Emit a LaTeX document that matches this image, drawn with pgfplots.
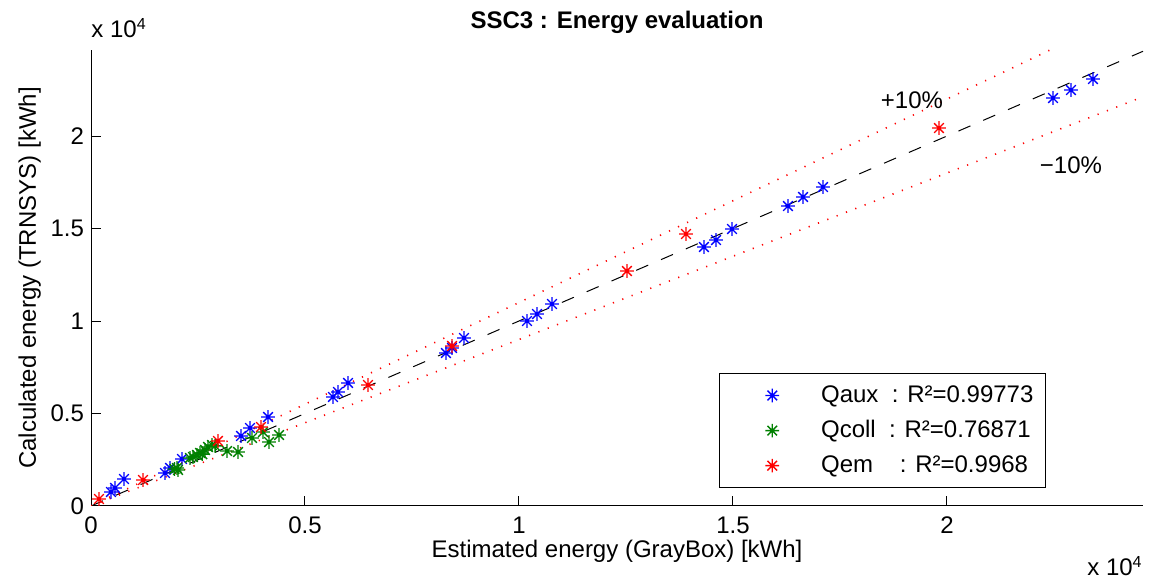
\documentclass[border=0pt]{standalone}
\usepackage{fontspec}
\setmainfont{Liberation Sans}
\usepackage{pgfplots}
\pgfplotsset{compat=1.18}
\definecolor{mblue}{rgb}{0,0,1}
\definecolor{mgreen}{rgb}{0,0.5,0}
\definecolor{mred}{rgb}{1,0,0}

% MATLAB-like eight-armed asterisk
\pgfdeclareplotmark{mast}{%
  \pgfpathmoveto{\pgfqpoint{-\pgfplotmarksize}{0pt}}%
  \pgfpathlineto{\pgfqpoint{\pgfplotmarksize}{0pt}}%
  \pgfpathmoveto{\pgfqpoint{0pt}{-\pgfplotmarksize}}%
  \pgfpathlineto{\pgfqpoint{0pt}{\pgfplotmarksize}}%
  \pgfpathmoveto{\pgfqpoint{-0.707\pgfplotmarksize}{-0.707\pgfplotmarksize}}%
  \pgfpathlineto{\pgfqpoint{0.707\pgfplotmarksize}{0.707\pgfplotmarksize}}%
  \pgfpathmoveto{\pgfqpoint{-0.707\pgfplotmarksize}{0.707\pgfplotmarksize}}%
  \pgfpathlineto{\pgfqpoint{0.707\pgfplotmarksize}{-0.707\pgfplotmarksize}}%
  \pgfusepathqstroke}

\begin{document}
\begin{tikzpicture}[font=\fontsize{12}{14}\selectfont]
\begin{axis}[
  name=ax, scale only axis, width=526pt, height=228pt,
  xmin=0, xmax=24580, ymin=0, ymax=24650,
  axis x line*=bottom, axis y line*=left,
  axis line style={-, black, line width=0.5pt},
  scaled ticks=false,
  xtick={0,5000,10000,15000,20000}, xticklabels={0,0.5,1,1.5,2},
  ytick={0,5000,10000,15000,20000}, yticklabels={0,0.5,1,1.5,2},
  tick align=inside, major tick length=5pt,
  tick style={black, line width=0.5pt},
  xticklabel style={yshift=-2pt},
  xlabel={Estimated energy (GrayBox) [kWh]},
  ylabel={Calculated energy (TRNSYS) [kWh]},
  xlabel style={at={([yshift=-26pt]axis description cs:0.5,0)}, anchor=base},
  ylabel style={at={([xshift=-27.5pt]axis description cs:0,0.5)}, anchor=base},
  clip marker paths=true,
  legend style={at={(rel axis cs:0.908,0.292)}, anchor=north east,
    draw=black, line width=0.8pt, inner xsep=4pt, inner ysep=4pt,
    row sep=3.5pt, font=\fontsize{12}{14}\selectfont},
  legend cell align=left,
  legend image code/.code={\draw[#1] plot coordinates {(22pt,0pt)}; \path (0pt,-4pt) (44pt,4pt);},
]
\addplot[black, line width=0.5pt, dash pattern=on 6.5pt off 7pt, forget plot]
  coordinates {(0,0) (24580,24580)};
\addplot[mred, line width=0.8pt, dash pattern=on 0.6pt off 4.4pt, forget plot]
  coordinates {(0,0) (24580,27038)};
\addplot[mred, line width=0.8pt, dash pattern=on 0.6pt off 4.4pt, forget plot]
  coordinates {(0,0) (24580,22122)};

\addplot[only marks, mark=mast, mark size=3.4pt, mblue, mark options={line width=0.7pt}]
  coordinates {
  (467,757) (561,973) (771,1459) (1729,1784) (1846,2054) (2126,2541)
  (3505,3784) (3715,4216) (4136,4811) (5654,5892) (5771,6162) (6005,6649)
  (8294,8270) (8435,8541) (8715,9081) (10187,10000) (10421,10378) (10771,10919)
  (14322,14000) (14603,14378) (14977,14973) (16285,16216) (16636,16703) (17103,17243)
  (22477,22054) (22897,22486) (23411,23081)};
\addlegendentry{Qaux\ \ : R²=0.99773}
\addplot[only marks, mark=mast, mark size=3.4pt, mgreen, mark options={line width=0.7pt}]
  coordinates {
  (1950,2000) (2009,2054) (2033,1946) (2313,2595) (2383,2649) (2477,2757)
  (2547,2865) (2600,2800) (2664,3027) (2734,3189) (2827,3297) (2900,3250)
  (3178,2973) (3435,2919) (3762,3676) (4019,4000) (4159,3459) (4393,3838)};
\addlegendentry{Qcoll\ \ : R²=0.76871}
\addplot[only marks, mark=mast, mark size=3.4pt, mred, mark options={line width=0.7pt}]
  coordinates {
  (187,378) (1215,1405) (2967,3514) (3972,4270) (6472,6541) (8435,8649)
  (12523,12703) (13902,14703) (19813,20432)};
\addlegendentry{Qem\ \ \ \ : R²=0.9968}

\node at (axis cs:19182,21946) {+10\%};
\node at (axis cs:22897,18432) {−10\%};
\end{axis}
\node[anchor=base, inner sep=0pt, font=\fontsize{12}{14}\selectfont\bfseries]
  at ([yshift=10.5pt]ax.north) {SSC3 : Energy evaluation};
\node[anchor=base west, inner sep=0pt] at ([yshift=6pt]ax.north west) {x 10\textsuperscript{4}};
\node[anchor=base east, inner sep=0pt] at ([yshift=-35pt]ax.south east) {x 10\textsuperscript{4}};
\pgfresetboundingbox
\path ([xshift=-45.5pt,yshift=-38pt]ax.south west) rectangle ([xshift=3.5pt,yshift=25pt]ax.north east);
\end{tikzpicture}
\end{document}
